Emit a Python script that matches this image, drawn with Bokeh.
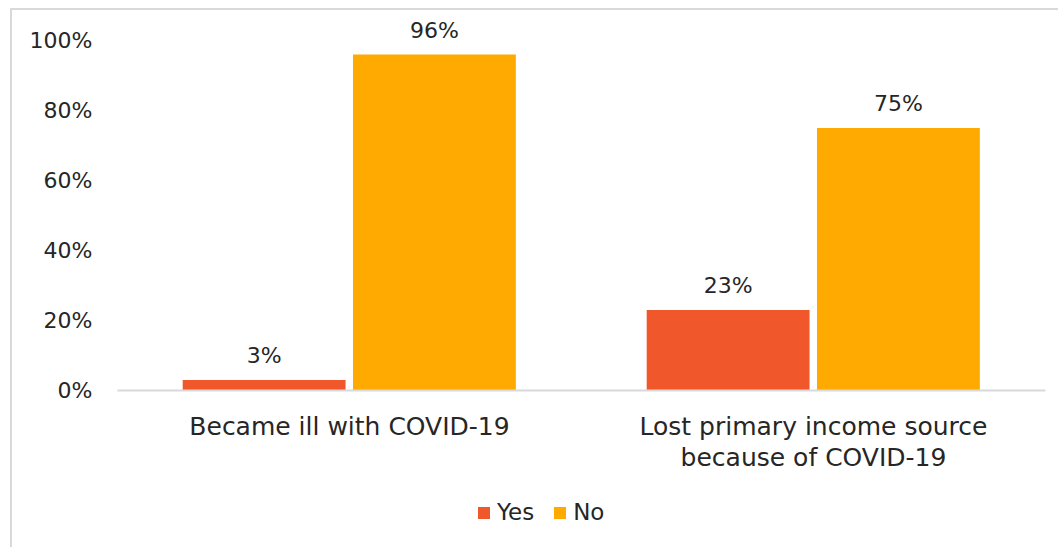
from bokeh.plotting import figure
from bokeh.models import (ColumnDataSource, FactorRange, FixedTicker, PrintfTickFormatter,
                          LabelSet, Legend, LegendItem, CategoricalAxis, Column, Range1d)
from bokeh.core.properties import value
from bokeh.transform import dodge
from bokeh.embed import file_html
from bokeh.resources import INLINE

label_line1 = ["Became ill with COVID-19", "Lost primary income source"]
label_line2 = [" ", "because of COVID-19"]
yes_values = [3, 23]
no_values = [96, 75]
series_names = ["Yes", "No"]
y_ticks = [0, 20, 40, 60, 80, 100]

YES_COLOR = "#F0572A"
NO_COLOR = "#FFAA00"
FONT = "DejaVu Sans"
TEXT_COLOR = "#262626"

source = ColumnDataSource(dict(
    cat=label_line1,
    yes=yes_values,
    no=no_values,
    yes_lbl=[f"{v}%" for v in yes_values],
    no_lbl=[f"{v}%" for v in no_values],
))

# canvas starts at page (12, 10); frame: left 117, right 1045, y=0 at 390, 3.5 px per %
p = figure(x_range=FactorRange(*label_line1), y_range=(0, 108),
           width=1046, height=478, output_backend="svg", toolbar_location=None,
           min_border_left=105, min_border_right=13, min_border_top=2, min_border_bottom=98)
p.extra_x_ranges = {"line2": FactorRange(*label_line2)}
p.outline_line_color = None
p.xgrid.grid_line_color = None
p.ygrid.grid_line_color = None

bw = 0.351
r_yes = p.vbar(x=dodge("cat", -0.184, range=p.x_range), top="yes", width=bw, source=source,
               fill_color=YES_COLOR, line_color=None)
r_no = p.vbar(x=dodge("cat", 0.183, range=p.x_range), top="no", width=bw, source=source,
              fill_color=NO_COLOR, line_color=None)

for col, off in (("yes", -0.184), ("no", 0.183)):
    p.add_layout(LabelSet(x=dodge("cat", off, range=p.x_range), y=col, text=col + "_lbl",
                          source=source, text_align="center", text_baseline="bottom",
                          y_offset=12, text_font=value(FONT), text_font_size="22px",
                          text_color=TEXT_COLOR))

p.yaxis.ticker = FixedTicker(ticks=y_ticks)
p.yaxis.formatter = PrintfTickFormatter(format="%d%%")
p.yaxis.axis_line_color = None
p.yaxis.major_tick_line_color = None
p.yaxis.minor_tick_line_color = None
p.yaxis.major_label_standoff = 19
p.yaxis.major_label_text_font = FONT
p.yaxis.major_label_text_font_size = "22px"
p.yaxis.major_label_text_color = TEXT_COLOR

def style_x(ax, standoff):
    ax.major_tick_line_color = None
    ax.minor_tick_line_color = None
    ax.major_label_standoff = standoff
    ax.major_label_text_font = FONT
    ax.major_label_text_font_size = "25px"
    ax.major_label_text_color = TEXT_COLOR

p.xaxis.axis_line_color = "#d9d9d9"
p.xaxis.axis_line_width = 2
style_x(p.xaxis[0], 15)

ax2 = CategoricalAxis(x_range_name="line2", axis_line_color=None)
style_x(ax2, -7)
p.add_layout(ax2, "below")

# legend strip below the chart (bars drawn from the same data, kept outside its visible range)
pl = figure(width=1046, height=61, x_range=p.x_range, y_range=Range1d(1000, 1001),
            output_backend="svg", toolbar_location=None,
            x_axis_type=None, y_axis_type=None,
            min_border_left=105, min_border_right=13, min_border_top=0, min_border_bottom=0)
pl.outline_line_color = None
pl.xgrid.grid_line_color = None
pl.ygrid.grid_line_color = None
g_yes = pl.vbar(x="cat", top="yes", width=bw, source=source, fill_color=YES_COLOR, line_color=None)
g_no = pl.vbar(x="cat", top="no", width=bw, source=source, fill_color=NO_COLOR, line_color=None)
legend = Legend(items=[LegendItem(label=series_names[0], renderers=[g_yes]),
                       LegendItem(label=series_names[1], renderers=[g_no])],
                orientation="horizontal", location=(359, 24),
                label_text_font=FONT, label_text_font_size="23px", label_text_color=TEXT_COLOR,
                glyph_width=15, glyph_height=15, spacing=18, label_standoff=6,
                background_fill_alpha=0, border_line_color=None, padding=0, margin=0)
pl.add_layout(legend, "center")

layout = Column(children=[p, pl], spacing=0, margin=(8, 0, 0, 10),
                styles={"border-left": "2px solid #d9d9d9", "border-top": "2px solid #d9d9d9"})

open("out.html", "w").write(file_html(layout, INLINE))
